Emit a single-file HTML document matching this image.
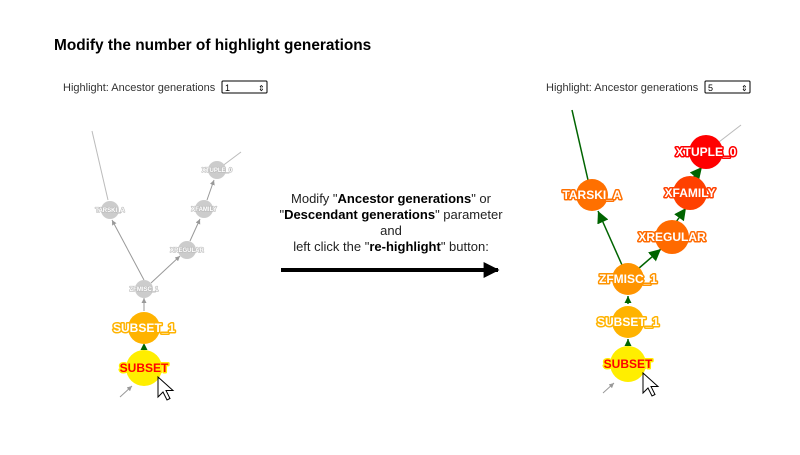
<!DOCTYPE html>
<html><head><meta charset="utf-8"><style>
body{margin:0;background:#fff;width:800px;height:450px;overflow:hidden;font-family:"Liberation Sans",sans-serif}
svg text{font-family:"Liberation Sans",sans-serif}
.lbl{font-weight:bold;text-anchor:middle;paint-order:stroke;stroke-linejoin:round}
</style></head><body>
<svg width="800" height="450">
<defs>
<marker id="ga" viewBox="0 0 10 10" refX="10" refY="5" markerWidth="5" markerHeight="5" orient="auto" markerUnits="userSpaceOnUse"><path d="M0,0L10,5L0,10z" fill="#999"/></marker>
<marker id="gr" viewBox="0 0 10 10" refX="10" refY="5" markerWidth="12" markerHeight="12" orient="auto" markerUnits="userSpaceOnUse"><path d="M0,0L10,5L0,10z" fill="#006400"/></marker>
<marker id="grs" viewBox="0 0 10 10" refX="10" refY="5" markerWidth="7" markerHeight="7" orient="auto" markerUnits="userSpaceOnUse"><path d="M0,0L10,5L0,10z" fill="#006400"/></marker>
<marker id="bk" viewBox="0 0 10 10" refX="9" refY="5" markerWidth="4" markerHeight="4" orient="auto"><path d="M0,0L10,5L0,10z" fill="#000"/></marker>
</defs>
<text x="54" y="50" font-size="15.4" font-weight="bold">Modify the number of highlight generations</text>

<g>
<text x="63" y="91" font-size="11" fill="#333">Highlight: Ancestor generations</text>
<g><rect x="222" y="81" width="45" height="12" fill="#fff" stroke="#000" rx="1"/><text x="225" y="91" font-size="9">1</text><text x="258" y="91" font-size="8">⇕</text></g>
<line x1="92" y1="131" x2="108" y2="200" stroke="#bbb"/>
<line x1="217" y1="170" x2="241" y2="152" stroke="#bbb"/>
<line x1="144" y1="280" x2="112" y2="220" stroke="#999" marker-end="url(#ga)"/>
<line x1="151" y1="283" x2="180" y2="256" stroke="#999" marker-end="url(#ga)"/>
<line x1="190" y1="241" x2="200" y2="219" stroke="#999" marker-end="url(#ga)"/>
<line x1="207" y1="200" x2="214" y2="180" stroke="#999" marker-end="url(#ga)"/>
<line x1="144" y1="311" x2="144" y2="298" stroke="#999" marker-end="url(#ga)"/>
<line x1="144" y1="344" x2="144" y2="343" stroke="#006400" marker-end="url(#grs)"/>
<line x1="120" y1="397" x2="132" y2="386" stroke="#999" marker-end="url(#ga)"/>
<g><circle cx="110" cy="210" r="9" fill="#ccc"/><text class="lbl" x="110" y="212" font-size="6" fill="#fff" stroke="#bbb" stroke-width="1.2">TARSKI_A</text></g>
<g><circle cx="217" cy="170" r="9" fill="#ccc"/><text class="lbl" x="217" y="172" font-size="6" fill="#fff" stroke="#bbb" stroke-width="1.2">XTUPLE_0</text></g>
<g><circle cx="204" cy="209" r="9" fill="#ccc"/><text class="lbl" x="204" y="211" font-size="6" fill="#fff" stroke="#bbb" stroke-width="1.2">XFAMILY</text></g>
<g><circle cx="187" cy="250" r="9" fill="#ccc"/><text class="lbl" x="187" y="252" font-size="6" fill="#fff" stroke="#bbb" stroke-width="1.2">XREGULAR</text></g>
<g><circle cx="144" cy="289" r="9" fill="#ccc"/><text class="lbl" x="144" y="291" font-size="6" fill="#fff" stroke="#bbb" stroke-width="1.2">ZFMISC_1</text></g>
<g><circle cx="144" cy="328" r="16" fill="#ffb300"/><text class="lbl" x="144" y="332" font-size="12" fill="#fff" stroke="#ffb300" stroke-width="3">SUBSET_1</text></g>
<g><circle cx="144" cy="368" r="18" fill="#ffee00"/><text class="lbl" x="144" y="372" font-size="12" fill="#f00" stroke="#ffee00" stroke-width="3">SUBSET</text></g>
<path d="M158,377 l0,20 l5,-5 l4,8 l3,-1.5 l-4,-8 l7,0 z" fill="#fff" stroke="#000" stroke-width="1"/>
</g>

<g font-size="13" text-anchor="middle" fill="#222">
<text x="391" y="203">Modify "<tspan font-weight="bold" fill="#000">Ancestor generations</tspan>" or</text>
<text x="391" y="219">"<tspan font-weight="bold" fill="#000">Descendant generations</tspan>" parameter</text>
<text x="391" y="235">and</text>
<text x="391" y="251">left click the "<tspan font-weight="bold" fill="#000">re-highlight</tspan>" button:</text>
</g>
<line x1="281" y1="270" x2="498" y2="270" stroke="#000" stroke-width="4" marker-end="url(#bk)"/>

<g>
<text x="546" y="91" font-size="11" fill="#333">Highlight: Ancestor generations</text>
<g><rect x="705" y="81" width="45" height="12" fill="#fff" stroke="#000" rx="1"/><text x="708" y="91" font-size="9">5</text><text x="741" y="91" font-size="8">⇕</text></g>
<line x1="572" y1="110" x2="588" y2="180" stroke="#006400" stroke-width="1.5"/>
<line x1="706" y1="152" x2="741" y2="125" stroke="#bbb"/>
<line x1="622" y1="265" x2="598" y2="211" stroke="#006400" stroke-width="1.5" marker-end="url(#gr)"/>
<line x1="638" y1="269" x2="661" y2="249" stroke="#006400" stroke-width="1.5" marker-end="url(#gr)"/>
<line x1="676" y1="222" x2="686" y2="208" stroke="#006400" stroke-width="1.5" marker-end="url(#gr)"/>
<line x1="693" y1="178" x2="702" y2="167" stroke="#006400" stroke-width="1.5" marker-end="url(#gr)"/>
<line x1="628" y1="304" x2="628" y2="296" stroke="#006400" stroke-width="1.5" marker-end="url(#grs)"/>
<line x1="628" y1="344" x2="628" y2="339" stroke="#006400" stroke-width="1.5" marker-end="url(#grs)"/>
<line x1="603" y1="393" x2="614" y2="383" stroke="#999" marker-end="url(#ga)"/>
<g><circle cx="706" cy="152" r="17" fill="#f00"/><text class="lbl" x="706" y="156" font-size="12" fill="#fff" stroke="#f00" stroke-width="3">XTUPLE_0</text></g>
<g><circle cx="690" cy="193" r="17" fill="#ff4000"/><text class="lbl" x="690" y="197" font-size="12" fill="#fff" stroke="#ff4000" stroke-width="3">XFAMILY</text></g>
<g><circle cx="672" cy="237" r="17" fill="#ff6a00"/><text class="lbl" x="672" y="241" font-size="12" fill="#fff" stroke="#ff6a00" stroke-width="3">XREGULAR</text></g>
<g><circle cx="592" cy="195" r="16" fill="#ff7000"/><text class="lbl" x="592" y="199" font-size="12" fill="#fff" stroke="#ff7000" stroke-width="3">TARSKI_A</text></g>
<g><circle cx="628" cy="279" r="16" fill="#ff9400"/><text class="lbl" x="628" y="283" font-size="12" fill="#fff" stroke="#ff9400" stroke-width="3">ZFMISC_1</text></g>
<g><circle cx="628" cy="322" r="16" fill="#ffb300"/><text class="lbl" x="628" y="326" font-size="12" fill="#fff" stroke="#ffb300" stroke-width="3">SUBSET_1</text></g>
<g><circle cx="628" cy="364" r="18" fill="#ffee00"/><text class="lbl" x="628" y="368" font-size="12" fill="#f00" stroke="#ffee00" stroke-width="3">SUBSET</text></g>
<path d="M643,373 l0,20 l5,-5 l4,8 l3,-1.5 l-4,-8 l7,0 z" fill="#fff" stroke="#000" stroke-width="1"/>
</g>
</svg>
</body></html>
